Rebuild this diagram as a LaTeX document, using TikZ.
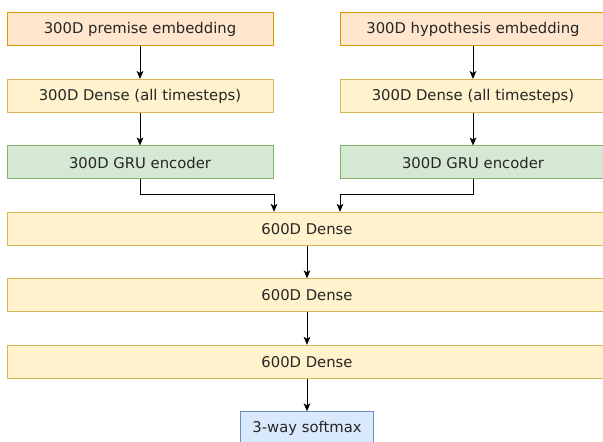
\documentclass[tikz,border=0pt]{standalone}
\usepackage{fontspec}
\setmainfont{DejaVu Sans}
\usetikzlibrary{shapes,arrows.meta,positioning}

\definecolor{embfill}{HTML}{FFE6CC}
\definecolor{embdraw}{HTML}{D79B00}
\definecolor{densefill}{HTML}{FFF2CC}
\definecolor{densedraw}{HTML}{D6B656}
\definecolor{grufill}{HTML}{D5E8D4}
\definecolor{grudraw}{HTML}{82B366}
\definecolor{softfill}{HTML}{DAE8FC}
\definecolor{softdraw}{HTML}{6C8EBF}

\begin{document}
\begin{tikzpicture}[x=1pt, y=1pt, >={Stealth[length=6pt, width=5pt, inset=1.5pt]}]
            \useasboundingbox (0,0) rectangle (452.25,-331.5);
            \tikzstyle{every node} = [align=center, draw, rectangle, line width=0.75pt, minimum height=24.75pt, inner sep=0pt, font=\fontsize{11.1}{13}\selectfont, text=black!85, node distance=49.875pt]
            \tikzstyle{embed} = [fill=embfill, draw=embdraw, minimum width=199.5pt]
            \tikzstyle{dense} = [fill=densefill, draw=densedraw, minimum width=199.5pt]
            \tikzstyle{gru} = [fill=grufill, draw=grudraw, minimum width=199.5pt]
            \tikzstyle{wide} = [fill=densefill, draw=densedraw, minimum width=450pt]
            \tikzstyle{softbox} = [fill=softfill, draw=softdraw, minimum width=99.75pt]

            \node[embed] at (105,-22.125) (pe){300D premise embedding};
            \node[dense, below of=pe](pd){300D Dense (all timesteps)};
            \node[gru, below of=pd](pg){300D GRU encoder};
            \node[embed] at (354.75,-22.125) (he){300D hypothesis embedding};
            \node[dense, below of=he](hd){300D Dense (all timesteps)};
            \node[gru, below of=hd](hg){300D GRU encoder};
            \node[wide] at (230.25,-171.625) (d1){600D Dense};
            \node[wide, below of=d1](d2){600D Dense};
            \node[wide, below of=d2](d3){600D Dense};
            \node[softbox, below of=d3](sm){3-way softmax};
            \coordinate (ml) at ([xshift=-24.75pt, yshift=12.75pt]d1.north);
            \coordinate (mr) at ([xshift=24.75pt, yshift=12.75pt]d1.north);

            \path[->, line width=0.75pt] (pe) edge (pd);
            \path[->, line width=0.75pt] (pd) edge (pg);
            \path[->, line width=0.75pt] (he) edge (hd);
            \path[->, line width=0.75pt] (hd) edge (hg);
            \draw[->, line width=0.75pt] (pg) |- (ml) -- (ml |- d1.north);
            \draw[->, line width=0.75pt] (hg) |- (mr) -- (mr |- d1.north);
            \path[->, line width=0.75pt] (d1) edge (d2);
            \path[->, line width=0.75pt] (d2) edge (d3);
            \path[->, line width=0.75pt] (d3) edge (sm);
      \end{tikzpicture}
\end{document}
